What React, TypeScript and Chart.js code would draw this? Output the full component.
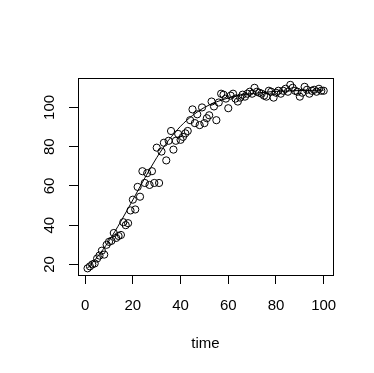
import React, { useEffect, useRef } from 'react';
import { Chart, registerables } from 'chart.js';

Chart.register(...registerables);

// observation times 1..100
const time: number[] = [
  1, 2, 3, 4, 5, 6, 7, 8, 9, 10, 11, 12, 13, 14, 15, 16, 17, 18, 19, 20,
  21, 22, 23, 24, 25, 26, 27, 28, 29, 30, 31, 32, 33, 34, 35, 36, 37, 38, 39, 40,
  41, 42, 43, 44, 45, 46, 47, 48, 49, 50, 51, 52, 53, 54, 55, 56, 57, 58, 59, 60,
  61, 62, 63, 64, 65, 66, 67, 68, 69, 70, 71, 72, 73, 74, 75, 76, 77, 78, 79, 80,
  81, 82, 83, 84, 85, 86, 87, 88, 89, 90, 91, 92, 93, 94, 95, 96, 97, 98, 99, 100,
];

const observed: number[] = [
  18, 19, 20, 20.5, 23, 24.5, 27, 25, 30, 31.5,
  32, 36, 33.5, 34.5, 35, 41.5, 40, 41, 47.5, 53,
  48, 59.5, 54.5, 67.5, 61.5, 66.5, 60.5, 67.5, 61.5, 79.5,
  61.5, 77.5, 82, 73, 83, 88, 78.5, 83, 86.5, 83.5,
  85, 86.8, 88, 93.5, 99, 92, 96.5, 91, 100, 92,
  94.5, 96, 103, 100.5, 93.5, 102.5, 107, 106.5, 104.5, 99.6,
  106, 107, 104.5, 103, 105, 106.5, 105.5, 107, 108, 107,
  110, 108, 107.5, 107, 106, 105.5, 108.5, 108, 105, 107.5,
  108.5, 107, 108.5, 109.5, 108, 111.5, 110, 108.5, 108, 105.5,
  107.5, 110.5, 109, 107, 108.5, 109, 108, 109.5, 108.5, 108.5,
];

// fitted growth curve, read at a few times
const fitTime: number[] = [1, 5, 10, 15, 20, 25, 30, 35, 40, 45, 50, 55, 60, 65, 70, 75, 80, 85, 90, 95, 100];
const fitted: number[] = [18.1, 23.6, 32.0, 42.0, 52.9, 64.0, 74.4, 83.3, 90.4, 95.9, 100.0, 102.8, 104.8, 106.2, 107.1, 107.7, 108.2, 108.4, 108.6, 108.7, 108.8];

const xTicks: number[] = [0, 20, 40, 60, 80, 100];
const yTicks: number[] = [20, 40, 60, 80, 100];
const xTitle = 'time';

const FONT = "'Liberation Sans', Arial, sans-serif";

const boxPlugin = {
  id: 'rbox',
  afterDatasetsDraw(chart: any) {
    const { ctx, chartArea } = chart;
    const l = Math.round(chartArea.left) + 0.5;
    const t = Math.round(chartArea.top) + 0.5;
    const r = Math.round(chartArea.right) + 0.5;
    const b = Math.round(chartArea.bottom) + 0.5;
    ctx.save();
    ctx.strokeStyle = '#000';
    ctx.lineWidth = 1;
    ctx.strokeRect(l, t, r - l, b - t);
    ctx.restore();
  },
};

export default function App() {
  const ref = useRef<HTMLCanvasElement | null>(null);

  useEffect(() => {
    if (!ref.current) return;
    const chart = new Chart(ref.current, {
      type: 'scatter',
      data: {
        datasets: [
          {
            label: 'fitted',
            data: fitTime.map((t, i) => ({ x: t, y: fitted[i] })),
            showLine: true,
            borderColor: '#000',
            borderWidth: 1,
            pointRadius: 0,
            fill: false,
            cubicInterpolationMode: 'monotone',
          } as any,
          {
            label: 'observed',
            data: time.map((t, i) => ({ x: t, y: observed[i] })),
            showLine: false,
            pointStyle: 'circle',
            pointRadius: 3.6,
            pointBorderWidth: 1,
            pointBorderColor: '#000',
            pointBackgroundColor: 'rgba(0,0,0,0)',
            borderColor: '#000',
            backgroundColor: 'rgba(0,0,0,0)',
          } as any,
        ],
      },
      options: {
        animation: false,
        responsive: false,
        devicePixelRatio: 1,
        events: [],
        layout: { padding: { top: 78, right: 41, left: 0, bottom: 0 } },
        plugins: {
          legend: { display: false },
          tooltip: { enabled: false },
          title: { display: false },
        },
        scales: {
          x: {
            type: 'linear',
            min: -3.0,
            max: 103.9,
            afterBuildTicks: (scale: any) => {
              scale.ticks = xTicks.map((v) => ({ value: v }));
            },
            afterFit: (scale: any) => {
              scale.height = 98;
            },
            grid: {
              display: true,
              drawOnChartArea: false,
              drawTicks: true,
              tickLength: 9,
              color: '#000',
            },
            border: { display: false },
            ticks: {
              color: '#000',
              font: { family: FONT, size: 15 },
              padding: 13,
              maxRotation: 0,
              minRotation: 0,
              autoSkip: false,
            },
            title: {
              display: true,
              text: xTitle,
              color: '#000',
              font: { family: FONT, size: 15 },
              padding: { top: 0, bottom: 20 },
            },
          },
          y: {
            type: 'linear',
            min: 14.6,
            max: 115.0,
            afterBuildTicks: (scale: any) => {
              scale.ticks = yTicks.map((v) => ({ value: v }));
            },
            afterFit: (scale: any) => {
              scale.width = 78;
            },
            grid: {
              display: true,
              drawOnChartArea: false,
              drawTicks: true,
              tickLength: 9,
              color: '#000',
            },
            border: { display: false },
            ticks: {
              color: '#000',
              font: { family: FONT, size: 15 },
              padding: 7,
              minRotation: 90,
              maxRotation: 90,
              crossAlign: 'center',
              autoSkip: false,
            },
          },
        },
      },
      plugins: [boxPlugin],
    } as any);
    return () => chart.destroy();
  }, []);

  return (
    <div style={{ position: 'absolute', left: 0, top: 0, width: 374, height: 373, background: '#fff' }}>
      <canvas ref={ref} width={374} height={373} style={{ display: 'block', width: 374, height: 373 }} />
    </div>
  );
}
